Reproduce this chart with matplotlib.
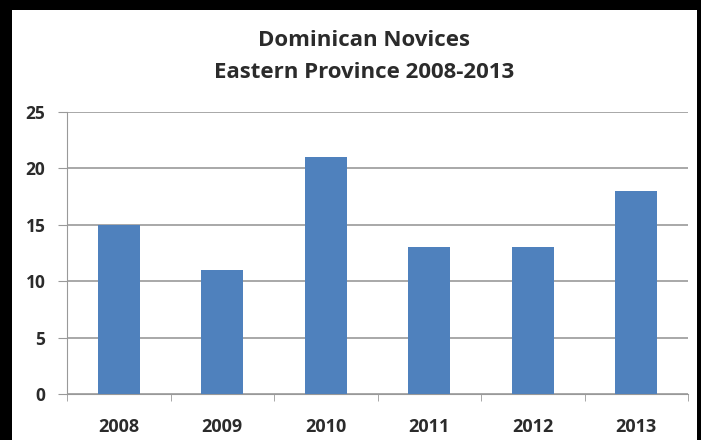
import numpy as np
import matplotlib.pyplot as plt
from matplotlib.patches import Rectangle

years = ["2008", "2009", "2010", "2011", "2012", "2013"]
novices = [15, 11, 21, 13, 13, 18]
yticks = [0, 5, 10, 15, 20, 25]

plt.rcParams["font.family"] = ["Open Sans", "DejaVu Sans"]

fig = plt.figure(figsize=(7.01, 4.40), dpi=100, facecolor="black")
# white chart panel inside the black frame
fig.patches.append(Rectangle((12/701, 0), (697-12)/701, (440-10)/440,
                             transform=fig.transFigure, facecolor="white",
                             edgecolor="none", zorder=-10))

ax = fig.add_axes([67/701, 1-394/440, (688-67)/701, (394-112)/440])
ax.set_facecolor("white")
x = np.arange(len(years))
ax.bar(x, novices, width=0.41, color="#4F81BD", zorder=3)

ax.set_xlim(-0.5, len(years)-0.5)
ax.set_ylim(0, 25)
ax.set_yticks(yticks)
ax.set_yticklabels([str(v) for v in yticks], fontsize=12.5, fontweight="bold", color="#2b2b2b")
ax.yaxis.grid(True, color="#999999", linewidth=1.2, zorder=0)
ax.set_axisbelow(True)

ax.set_xticks(x)
ax.set_xticklabels(years, fontsize=13, fontweight="bold", color="#2b2b2b")
ax.tick_params(axis="x", length=0, pad=17)
ax.set_xticks(np.arange(-0.5, len(years)), minor=True)
ax.tick_params(axis="x", which="minor", length=5, color="#999999")
ax.tick_params(axis="y", length=6.5, color="#999999", pad=9)

for s in ["top", "right"]:
    ax.spines[s].set_visible(False)
for s in ["left", "bottom"]:
    ax.spines[s].set_color("#999999")

fig.text(364/701, 1-40/440, "Dominican Novices", ha="center", va="center",
         fontsize=16, fontweight="bold", color="#2b2b2b")
fig.text(364/701, 1-73/440, "Eastern Province 2008-2013", ha="center", va="center",
         fontsize=16, fontweight="bold", color="#2b2b2b")

fig.savefig("out.png", dpi=100, facecolor="black")
